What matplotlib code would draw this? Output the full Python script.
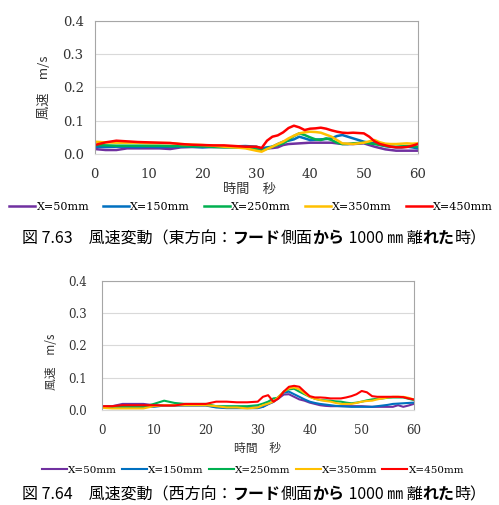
import matplotlib
matplotlib.use("Agg")
import matplotlib.pyplot as plt

# time axis: every 2 s up to 28 s, then every second
time_s = list(range(0, 30, 2)) + list(range(30, 61))

labels = ["X=50mm", "X=150mm", "X=250mm", "X=350mm", "X=450mm"]
colors = ["#7030A0", "#0070C0", "#00B050", "#FFC000", "#FF0000"]

# Fig 7.63 (east)
east_50 = [0.015, 0.012, 0.012, 0.017, 0.017, 0.017, 0.017, 0.015, 0.020, 0.021, 0.021, 0.021, 0.021, 0.021, 0.020,
           0.014, 0.015, 0.017, 0.018, 0.020, 0.027, 0.030, 0.031, 0.032, 0.033, 0.034, 0.034, 0.034, 0.034, 0.034,
           0.032, 0.030, 0.030, 0.030, 0.031, 0.032, 0.027, 0.022, 0.018, 0.014, 0.012, 0.010, 0.010, 0.010, 0.010, 0.010]
east_150 = [0.022, 0.021, 0.022, 0.022, 0.021, 0.022, 0.021, 0.022, 0.022, 0.022, 0.020, 0.022, 0.023, 0.023, 0.024,
            0.022, 0.017, 0.020, 0.022, 0.030, 0.037, 0.040, 0.044, 0.052, 0.047, 0.042, 0.043, 0.044, 0.045, 0.047,
            0.054, 0.057, 0.052, 0.047, 0.042, 0.037, 0.034, 0.032, 0.028, 0.024, 0.022, 0.020, 0.020, 0.022, 0.020, 0.017]
east_250 = [0.027, 0.026, 0.025, 0.025, 0.025, 0.025, 0.025, 0.024, 0.024, 0.023, 0.023, 0.021, 0.020, 0.020, 0.020,
            0.014, 0.010, 0.016, 0.022, 0.027, 0.032, 0.042, 0.054, 0.062, 0.057, 0.050, 0.044, 0.042, 0.047, 0.042,
            0.034, 0.030, 0.030, 0.032, 0.033, 0.034, 0.032, 0.030, 0.027, 0.024, 0.022, 0.022, 0.023, 0.024, 0.023, 0.022]
east_350 = [0.037, 0.035, 0.034, 0.034, 0.034, 0.033, 0.033, 0.033, 0.030, 0.028, 0.027, 0.025, 0.022, 0.020, 0.017,
            0.010, 0.007, 0.015, 0.022, 0.030, 0.037, 0.047, 0.055, 0.062, 0.065, 0.067, 0.066, 0.064, 0.058, 0.052,
            0.042, 0.032, 0.031, 0.030, 0.032, 0.034, 0.038, 0.042, 0.035, 0.031, 0.030, 0.030, 0.031, 0.032, 0.031, 0.032]
east_450 = [0.027, 0.035, 0.040, 0.038, 0.036, 0.035, 0.034, 0.033, 0.030, 0.028, 0.027, 0.026, 0.026, 0.024, 0.022,
            0.022, 0.018, 0.040, 0.052, 0.056, 0.065, 0.078, 0.085, 0.080, 0.072, 0.076, 0.077, 0.079, 0.076, 0.071,
            0.067, 0.064, 0.063, 0.064, 0.063, 0.062, 0.052, 0.038, 0.030, 0.026, 0.022, 0.020, 0.020, 0.021, 0.025, 0.030]

# Fig 7.64 (west)
west_50 = [0.010, 0.012, 0.019, 0.019, 0.019, 0.015, 0.015, 0.015, 0.015, 0.015, 0.015, 0.010, 0.008, 0.008, 0.008,
           0.008, 0.010, 0.018, 0.025, 0.036, 0.048, 0.049, 0.041, 0.033, 0.029, 0.023, 0.019, 0.015, 0.013, 0.012,
           0.012, 0.012, 0.012, 0.012, 0.012, 0.012, 0.011, 0.010, 0.010, 0.010, 0.010, 0.010, 0.015, 0.010, 0.014, 0.019]
west_150 = [0.010, 0.010, 0.010, 0.010, 0.010, 0.010, 0.014, 0.014, 0.014, 0.014, 0.014, 0.008, 0.006, 0.006, 0.006,
            0.006, 0.010, 0.019, 0.026, 0.041, 0.054, 0.057, 0.049, 0.041, 0.033, 0.026, 0.022, 0.019, 0.017, 0.015,
            0.013, 0.012, 0.011, 0.010, 0.010, 0.010, 0.010, 0.010, 0.012, 0.014, 0.016, 0.019, 0.020, 0.021, 0.022, 0.023]
west_250 = [0.010, 0.010, 0.010, 0.010, 0.010, 0.019, 0.029, 0.022, 0.019, 0.019, 0.019, 0.012, 0.012, 0.012, 0.012,
            0.015, 0.020, 0.026, 0.036, 0.038, 0.057, 0.064, 0.066, 0.057, 0.049, 0.041, 0.035, 0.031, 0.030, 0.029,
            0.027, 0.026, 0.023, 0.021, 0.023, 0.026, 0.030, 0.033, 0.035, 0.036, 0.038, 0.039, 0.039, 0.039, 0.035, 0.031]
west_350 = [0.007, 0.005, 0.005, 0.005, 0.005, 0.012, 0.015, 0.015, 0.015, 0.015, 0.015, 0.012, 0.008, 0.008, 0.005,
            0.008, 0.015, 0.020, 0.026, 0.041, 0.057, 0.067, 0.070, 0.064, 0.052, 0.041, 0.035, 0.031, 0.028, 0.026,
            0.022, 0.019, 0.019, 0.019, 0.022, 0.026, 0.028, 0.029, 0.033, 0.036, 0.039, 0.041, 0.041, 0.041, 0.038, 0.033]
west_450 = [0.012, 0.012, 0.015, 0.015, 0.015, 0.015, 0.014, 0.014, 0.019, 0.019, 0.019, 0.026, 0.026, 0.024, 0.024,
            0.026, 0.041, 0.046, 0.026, 0.036, 0.057, 0.072, 0.075, 0.072, 0.057, 0.043, 0.039, 0.039, 0.038, 0.036,
            0.036, 0.036, 0.039, 0.043, 0.049, 0.059, 0.055, 0.043, 0.041, 0.041, 0.041, 0.041, 0.041, 0.040, 0.036, 0.033]

x_ticks = [0, 10, 20, 30, 40, 50, 60]
y_ticks = [0.0, 0.1, 0.2, 0.3, 0.4]

JP = "Noto Sans CJK JP"
NUM = "DejaVu Serif"


def draw_chart(ax, series, fs, ylab_xy, xlab_xy, ypad, lw):
    for vals, lab, col in zip(series, labels, colors):
        ax.plot(time_s, vals, color=col, lw=lw, label=lab, solid_joinstyle="round")
    ax.set_xlim(0, 60)
    ax.set_ylim(0, 0.4)
    ax.set_xticks(x_ticks)
    ax.set_yticks(y_ticks)
    ax.set_yticklabels(["%.1f" % v for v in y_ticks])
    ax.tick_params(length=0, labelsize=fs, pad=ypad, labelfontfamily=NUM, labelcolor="#333333")
    ax.tick_params(axis="x", pad=10)
    ax.grid(axis="y", color="#D9D9D9", lw=0.8)
    ax.set_axisbelow(True)
    for s in ax.spines.values():
        s.set_color("#A6A6A6")
        s.set_linewidth(0.8)
    ax.spines["bottom"].set_color("#D9D9D9")
    ax.set_ylabel("風速　m/s", fontfamily=[JP, "DejaVu Sans"], fontsize=fs, color="#333333")
    ax.yaxis.set_label_coords(*ylab_xy)
    ax.set_xlabel("時間　秒", fontfamily=[JP, "DejaVu Sans"], fontsize=fs, color="#333333")
    ax.xaxis.set_label_coords(*xlab_xy)


def caption(fig, x, y, pieces, fs):
    # place pieces one after another on a common baseline
    renderer = fig.canvas.get_renderer()
    for txt, w in pieces:
        t = fig.text(x, y, txt, fontsize=fs, fontfamily=JP, fontweight=w,
                     va="baseline", ha="left")
        bb = t.get_window_extent(renderer)
        x = bb.x1 / fig.bbox.width


fig = plt.figure(figsize=(4.99, 5.05), dpi=100)
ax1 = fig.add_axes([0.190, 0.695, 0.647, 0.264])
ax2 = fig.add_axes([0.204, 0.188, 0.625, 0.256])

draw_chart(ax1, [east_50, east_150, east_250, east_350, east_450], 9.5,
           (-0.135, 0.5), (0.48, -0.22), 8, 1.8)
draw_chart(ax2, [west_50, west_150, west_250, west_350, west_450], 8.5,
           (-0.14, 0.37), (0.5, -0.25), 11, 1.5)

h, l = ax1.get_legend_handles_labels()
fig.legend(h, l, loc="center", bbox_to_anchor=(0.503, 0.590), ncol=5, frameon=False,
           prop={"family": NUM, "size": 8}, handlelength=2.4, handletextpad=0.1,
           columnspacing=1.2, borderaxespad=0)
h, l = ax2.get_legend_handles_labels()
fig.legend(h, l, loc="center", bbox_to_anchor=(0.507, 0.069), ncol=5, frameon=False,
           prop={"family": NUM, "size": 7.5}, handlelength=2.4, handletextpad=0.1,
           columnspacing=0.5, borderaxespad=0)

cap_parts_east = [("図 7.63　風速変動（東方向：", "normal"), ("フード", "bold"), ("側面", "normal"),
                  ("から", "bold"), (" 1000 ㎜ 離", "normal"), ("れた", "bold"), ("時）", "normal")]
cap_parts_west = [("図 7.64　風速変動（西方向：", "normal"), ("フード", "bold"), ("側面", "normal"),
                  ("から", "bold"), (" 1000 ㎜ 離", "normal"), ("れた", "bold"), ("時）", "normal")]
caption(fig, 0.044, 1 - 243 / 505, cap_parts_east, 11.5)
caption(fig, 0.044, 1 - 499 / 505, cap_parts_west, 11.5)

fig.savefig("out.png", dpi=100)
